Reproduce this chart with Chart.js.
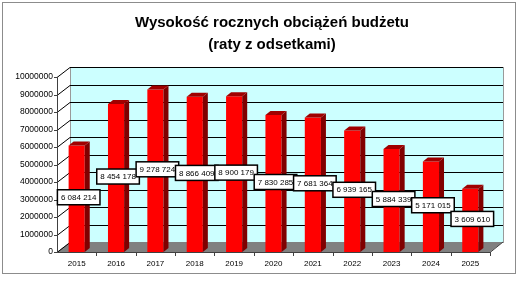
<!DOCTYPE html>
<html>
<head>
<meta charset="utf-8">
<script src="https://cdn.jsdelivr.net/npm/chart.js@4"></script>
<style>
  html, body { margin: 0; padding: 0; background: #fff; }
  #wrap { width: 520px; height: 281px; }
</style>
</head>
<body>
<div id="wrap"><canvas id="myChart" width="520" height="281"></canvas></div>
<script>
var years = ['2015', '2016', '2017', '2018', '2019', '2020', '2021', '2022', '2023', '2024', '2025'];
var values = [6084214, 8454178, 9278724, 8866409, 8900179, 7830285, 7681364, 6939165, 5884339, 5171015, 3609610];
var titleLines = ['Wysokość rocznych obciążeń budżetu', '(raty z odsetkami)'];

var FONT = "'Liberation Sans', Arial, sans-serif";
var depth = { dx: 13, dy: 10 };   // przesunięcie tylnej ściany (efekt 3D)
var barDepth = { dx: 5, dy: 4 };  // głębokość słupka

function spaced(v) {
    return v.toString().replace(/\B(?=(\d{3})+(?!\d))/g, ' ');
}

var excel3d = {
    id: 'excel3d',
    afterLayout: function(chart) {
        // tytuł wyśrodkowany nad całą ramką, a nie tylko nad obszarem wykresu
        var t = chart.titleBlock;
        if (t) { t.left = 24; t.right = 520; t.width = 496; }
    },
    beforeDraw: function(chart) {
        var ctx = chart.ctx;
        ctx.save();
        ctx.fillStyle = '#fff';
        ctx.fillRect(0, 0, chart.width, chart.height);
        ctx.strokeStyle = '#8c8c8c';
        ctx.lineWidth = 1;
        ctx.strokeRect(2.5, 2.5, 513, 271);
        ctx.restore();
    },
    beforeDatasetsDraw: function(chart) {
        var ctx = chart.ctx, a = chart.chartArea, y = chart.scales.y;
        var L = a.left, R = a.right, T = y.getPixelForValue(y.max), B = y.getPixelForValue(0);
        ctx.save();
        // tylna ściana
        ctx.fillStyle = '#ccffff';
        ctx.fillRect(L + depth.dx, T - depth.dy, R - L, B - T);
        ctx.strokeStyle = '#9a9a9a';
        ctx.lineWidth = 1;
        ctx.strokeRect(L + depth.dx + 0.5, T - depth.dy + 0.5, R - L, B - T);
        // podłoga
        ctx.fillStyle = '#808080';
        ctx.beginPath();
        ctx.moveTo(L, B);
        ctx.lineTo(R, B);
        ctx.lineTo(R + depth.dx, B - depth.dy);
        ctx.lineTo(L + depth.dx, B - depth.dy);
        ctx.closePath();
        ctx.fill();
        // linie siatki
        ctx.strokeStyle = '#000';
        ctx.lineWidth = 1;
        y.ticks.forEach(function(t) {
            var py = Math.round(y.getPixelForValue(t.value)) + 0.5;
            ctx.beginPath();
            ctx.moveTo(L, py);
            ctx.lineTo(L + depth.dx, py - depth.dy);
            if (t.value > 0) ctx.lineTo(R + depth.dx, py - depth.dy);
            ctx.stroke();
        });
        // osie
        ctx.strokeStyle = '#404040';
        ctx.beginPath();
        ctx.moveTo(L + 0.5, T);
        ctx.lineTo(L + 0.5, B + 0.5);
        ctx.lineTo(R, B + 0.5);
        ctx.lineTo(R + depth.dx, B - depth.dy);
        ctx.stroke();
        y.ticks.forEach(function(t) {
            var py = Math.round(y.getPixelForValue(t.value)) + 0.5;
            ctx.beginPath();
            ctx.moveTo(L - 3, py);
            ctx.lineTo(L, py);
            ctx.stroke();
        });
        var step = (R - L) / years.length;
        for (var i = 1; i <= years.length; i++) {
            var px = Math.round(L + i * step) + 0.5;
            ctx.beginPath();
            ctx.moveTo(px, B);
            ctx.lineTo(px, B + 4);
            ctx.stroke();
        }
        ctx.restore();
    },
    afterDatasetsDraw: function(chart) {
        var ctx = chart.ctx, y = chart.scales.y;
        var bars = chart.getDatasetMeta(0).data;
        ctx.save();
        bars.forEach(function(bar) {
            var p = bar.getProps(['x', 'y', 'base', 'width'], true);
            var l = p.x - p.width / 2, r = p.x + p.width / 2;
            // bok
            ctx.fillStyle = '#800000';
            ctx.beginPath();
            ctx.moveTo(r, p.y);
            ctx.lineTo(r + barDepth.dx, p.y - barDepth.dy);
            ctx.lineTo(r + barDepth.dx, p.base - barDepth.dy);
            ctx.lineTo(r, p.base);
            ctx.closePath();
            ctx.fill();
            // góra
            ctx.fillStyle = '#a00000';
            ctx.beginPath();
            ctx.moveTo(l, p.y);
            ctx.lineTo(l + barDepth.dx, p.y - barDepth.dy);
            ctx.lineTo(r + barDepth.dx, p.y - barDepth.dy);
            ctx.lineTo(r, p.y);
            ctx.closePath();
            ctx.fill();
        });
        // etykiety wartości
        ctx.font = '8px ' + FONT;
        ctx.textAlign = 'center';
        ctx.textBaseline = 'middle';
        bars.forEach(function(bar, i) {
            var txt = spaced(values[i]);
            var w = ctx.measureText(txt).width + 7, h = 15;
            var cx = bar.x + 2;
            var cy = y.getPixelForValue(values[i] / 2) - 1.5;
            ctx.fillStyle = '#fff';
            ctx.fillRect(cx - w / 2, cy - h / 2, w, h);
            ctx.strokeStyle = '#000';
            ctx.lineWidth = 1.5;
            ctx.strokeRect(cx - w / 2, cy - h / 2, w, h);
            ctx.fillStyle = '#000';
            ctx.fillText(txt, cx, cy + 0.5);
        });
        ctx.restore();
    }
};

var ctx = document.getElementById('myChart').getContext('2d');

var myChart = new Chart(ctx, {
    type: 'bar',
    data: {
        labels: years,
        datasets: [{
            data: values,
            backgroundColor: '#ff0000',
            borderWidth: 0,
            barPercentage: 0.41,
            categoryPercentage: 1
        }]
    },
    options: {
        responsive: false,
        animation: false,
        layout: {
            padding: { left: 0, right: 30, top: 0, bottom: 0 }
        },
        scales: {
            x: {
                grid: { display: false, drawTicks: false },
                border: { display: false },
                ticks: {
                    color: '#000',
                    padding: 7,
                    maxRotation: 0,
                    font: { family: FONT, size: 8 }
                },
                afterFit: function(scale) { scale.height = 29; }
            },
            y: {
                min: 0,
                max: 10000000,
                grid: { display: false, drawTicks: false },
                border: { display: false },
                ticks: {
                    stepSize: 1000000,
                    color: '#000',
                    padding: 4,
                    font: { family: FONT, size: 8.5 },
                    callback: function(v) { return v.toString(); }
                },
                afterFit: function(scale) { scale.width = 57; }
            }
        },
        plugins: {
            legend: { display: false },
            tooltip: { enabled: false },
            title: {
                display: true,
                text: titleLines,
                color: '#000',
                font: { family: FONT, size: 15, weight: 'bold', lineHeight: 1.45 },
                padding: { top: 12, bottom: 21.5 }
            }
        }
    },
    plugins: [excel3d]
});
</script>
</body>
</html>
